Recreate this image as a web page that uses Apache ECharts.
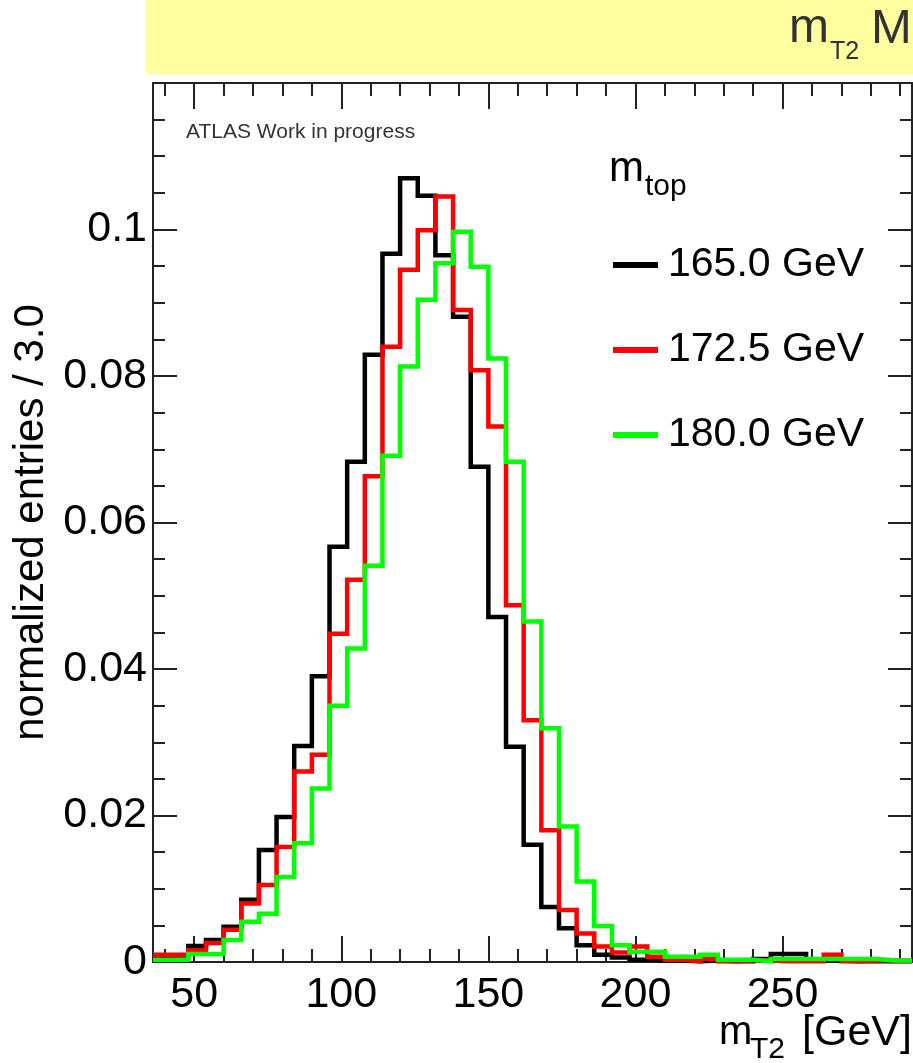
<!DOCTYPE html>
<html>
<head>
<meta charset="utf-8">
<script src="https://cdn.jsdelivr.net/npm/echarts@6/dist/echarts.min.js"></script>
<style>
  html, body { margin: 0; padding: 0; background: #ffffff; }
  #chart { width: 913px; height: 1063px; }
</style>
</head>
<body>
<div id="chart"></div>
<script>
// Bin edges (GeV), 6 GeV wide bins
const binEdges = [36,42,48,54,60,66,72,78,84,90,96,102,108,114,120,126,132,138,144,150,156,162,168,174,180,186,192,198,204,210,216,222,228,234,240,246,252,258,264,270,276,282,288,294];

// Series names (legend)
const seriesNames = ['165.0 GeV', '172.5 GeV', '180.0 GeV'];

// Normalized entries per bin
const m165 = [0.0004,0.0008,0.0022,0.0030,0.0048,0.0085,0.0153,0.0198,0.0295,0.0390,0.0567,0.0683,0.0829,0.0967,0.1070,0.1046,0.0965,0.0881,0.0676,0.0471,0.0294,0.0160,0.0075,0.0046,0.0023,0.0010,0.0006,0.0003,0.0002,0.0002,0.0001,0.0002,0.0001,0.0001,0.0004,0.0011,0.0011,0.0003,0.0002,0.0001,0.0001,0.0001,0.0001];
const m1725 = [0.0010,0.0010,0.0016,0.0026,0.0044,0.0080,0.0105,0.0157,0.0260,0.0283,0.0448,0.0522,0.0663,0.0840,0.0945,0.0999,0.1045,0.0890,0.0808,0.0731,0.0487,0.0330,0.0180,0.0071,0.0039,0.0021,0.0013,0.0021,0.0007,0.0003,0.0001,0.0004,0.0001,0.0002,0.0002,0.0001,0.0001,0.0001,0.0010,0.0001,0.0002,0.0002,0.0002];
const m180 = [0.0003,0.0003,0.0011,0.0011,0.0030,0.0055,0.0066,0.0116,0.0162,0.0237,0.0350,0.0428,0.0541,0.0691,0.0813,0.0904,0.0954,0.0997,0.0949,0.0824,0.0683,0.0465,0.0319,0.0185,0.0110,0.0049,0.0023,0.0014,0.0014,0.0007,0.0007,0.0010,0.0003,0.0003,0.0001,0.0004,0.0004,0.0004,0.0004,0.0004,0.0004,0.0002,0.0002];

// Axis ticks / labels
const xTickLabels = [50, 100, 150, 200, 250];
const xMinorTicks = [40,60,70,80,90,110,120,130,140,160,170,180,190,210,220,230,240,260,270,280,290];
const yMin = 0, yMax = 0.12, yInterval = 0.02;

const FONT = "'Liberation Sans', Arial, Helvetica, sans-serif";
const AX = '#222';

function histData(vals) {
  const d = vals.map((v, i) => [binEdges[i], v]);
  d.push([binEdges[binEdges.length - 1], vals[vals.length - 1]]);
  return d;
}

function xAxisDef(position, major) {
  return {
    type: 'value', min: binEdges[0], max: binEdges[binEdges.length - 1], position: position,
    axisLine: { show: major, onZero: false, lineStyle: { color: AX, width: 2 } },
    axisTick: { show: true, inside: true, length: major ? 26 : 13,
      customValues: major ? xTickLabels : xMinorTicks, lineStyle: { color: AX, width: 2 } },
    axisLabel: (major && position === 'bottom') ? {
      show: true, customValues: xTickLabels, fontSize: 43, fontFamily: FONT, color: '#000', margin: 12
    } : { show: false },
    splitLine: { show: false }, minorTick: { show: false }
  };
}

function yAxisDef(position) {
  const left = position === 'left';
  return {
    type: 'value', min: yMin, max: yMax, interval: yInterval, position: position,
    axisLine: { show: true, onZero: false, lineStyle: { color: AX, width: 2 } },
    axisTick: { show: true, inside: true, length: 24, lineStyle: { color: AX, width: 2 } },
    minorTick: { show: true, splitNumber: 4, length: 12, lineStyle: { color: AX, width: 2 } },
    axisLabel: left ? { show: true, fontSize: 43, fontFamily: FONT, color: '#000', margin: 6, showMaxLabel: false } : { show: false },
    splitLine: { show: false },
    name: left ? 'normalized entries / 3.0' : '',
    nameLocation: 'middle', nameRotate: 90, nameGap: 94,
    nameTextStyle: { fontSize: 42, fontFamily: FONT, color: '#000' }
  };
}

const colors = ['#000000', '#ff0000', '#00ff00'];
const values = [m165, m1725, m180];

const option = {
  animation: false,
  color: colors,
  grid: { left: 153, right: 1, top: 83, bottom: 101, containLabel: false, outerBoundsMode: 'none' },
  xAxis: [xAxisDef('bottom', true), xAxisDef('bottom', false), xAxisDef('top', true), xAxisDef('top', false)],
  yAxis: [yAxisDef('left'), yAxisDef('right')],
  legend: {
    orient: 'vertical', left: 613, top: 243, padding: 0, icon: 'rect', itemWidth: 45, itemHeight: 6, itemGap: 41,
    selectedMode: false,
    textStyle: { fontSize: 41, fontFamily: FONT, color: '#000', lineHeight: 44, padding: [0, 0, 0, 5] },
    data: seriesNames
  },
  graphic: [
    { type: 'rect', shape: { x: 146, y: 0, width: 767, height: 74 }, style: { fill: '#ffffa0' }, z: 0 },
    { type: 'text', x: 789, y: 29, style: { text: 'm', fontSize: 48, fontFamily: FONT, fill: '#333', align: 'left', verticalAlign: 'middle' }, z: 5 },
    { type: 'text', x: 830, y: 52, style: { text: 'T2', fontSize: 25, fontFamily: FONT, fill: '#333', align: 'left', verticalAlign: 'middle' }, z: 5 },
    { type: 'text', x: 871, y: 29, style: { text: 'M', fontSize: 49, fontFamily: FONT, fill: '#333', align: 'left', verticalAlign: 'middle' }, z: 5 },
    { type: 'text', x: 186, y: 132, style: { text: 'ATLAS Work in progress', fontSize: 21, fontFamily: FONT, fill: '#333', align: 'left', verticalAlign: 'middle' }, z: 5 },
    { type: 'text', x: 609, y: 169, style: { text: 'm', fontSize: 42, fontFamily: FONT, fill: '#000', align: 'left', verticalAlign: 'middle' }, z: 5 },
    { type: 'text', x: 645, y: 187, style: { text: 'top', fontSize: 30, fontFamily: FONT, fill: '#000', align: 'left', verticalAlign: 'middle' }, z: 5 },
    { type: 'text', x: 719, y: 1033, style: { text: 'm', fontSize: 40, fontFamily: FONT, fill: '#000', align: 'left', verticalAlign: 'middle' }, z: 5 },
    { type: 'text', x: 750, y: 1050, style: { text: 'T2', fontSize: 30, fontFamily: FONT, fill: '#000', align: 'left', verticalAlign: 'middle' }, z: 5 },
    { type: 'text', x: 912, y: 1033, style: { text: '[GeV]', fontSize: 43, fontFamily: FONT, fill: '#000', align: 'right', verticalAlign: 'middle' }, z: 5 }
  ],
  series: seriesNames.map((name, k) => ({
    name: name, type: 'line', step: 'end', data: histData(values[k]),
    xAxisIndex: 0, yAxisIndex: 0, showSymbol: false, symbol: 'none', clip: true,
    lineStyle: { width: 4.5, color: colors[k], join: 'miter', cap: 'butt' },
    itemStyle: { color: colors[k] },
    z: 2 + k
  }))
};

const chart = echarts.init(document.getElementById('chart'), null, { renderer: 'canvas' });
chart.setOption(option);
</script>
</body>
</html>
